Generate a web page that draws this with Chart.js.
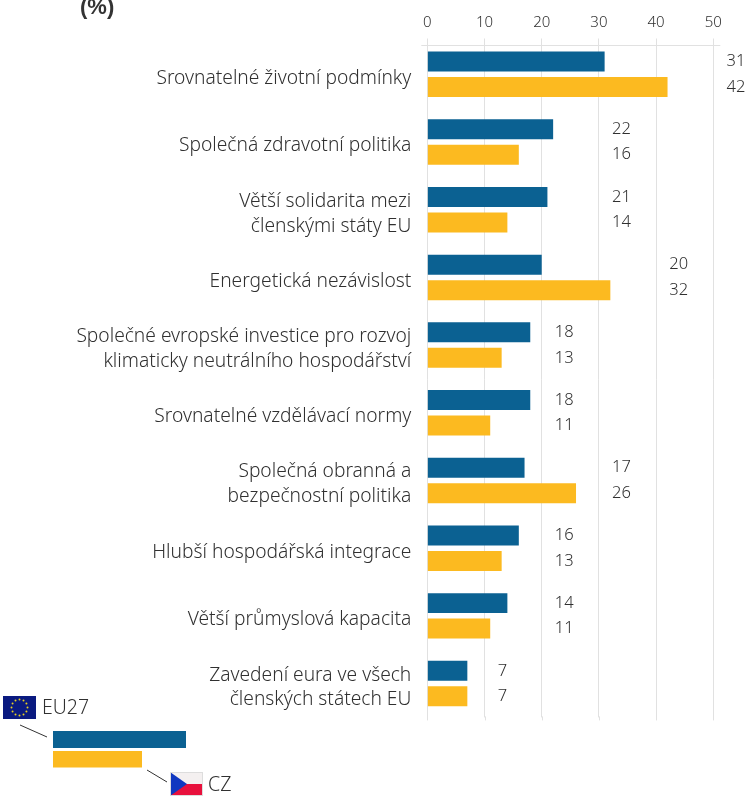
<!DOCTYPE html>
<html><head><meta charset="utf-8">
<style>html,body{margin:0;padding:0;background:#fff}canvas{display:block}</style>
<script src="https://cdn.jsdelivr.net/npm/chart.js@4"></script></head>
<body><div style="width:749px;height:799px;position:relative"><canvas id="c"></canvas></div>
<script>
const categories = [
  "Srovnatelné životní podmínky",
  "Společná zdravotní politika",
  ["Větší solidarita mezi","členskými státy EU"],
  "Energetická nezávislost",
  ["Společné evropské investice pro rozvoj","klimaticky neutrálního hospodářství"],
  "Srovnatelné vzdělávací normy",
  ["Společná obranná a","bezpečnostní politika"],
  "Hlubší hospodářská integrace",
  "Větší průmyslová kapacita",
  ["Zavedení eura ve všech","členských státech EU"]
];
const eu27 = [31,22,21,20,18,18,17,16,14,7];
const cz = [42,16,14,32,13,11,26,13,11,7];
const xTicks = [0,10,20,30,40,50];
const BLUE='#0b6192', YEL='#fcba20', TXT='#303030';
const FONT='"Noto Sans"';
const overlay = {
  id:'overlay',
  afterDraw(ch){
    const {ctx,chartArea:a,scales:{x}}=ch;
    ctx.save();
    // top rule and short extensions of the grid under the plot
    ctx.strokeStyle='#e1e1e1';ctx.lineWidth=1;
    ctx.beginPath();ctx.moveTo(a.left-6,a.top+5);ctx.lineTo(a.right+7,a.top+5);
    xTicks.forEach(v=>{const p=Math.round(x.getPixelForValue(v))+0.5;ctx.moveTo(p,a.bottom-1);ctx.lineTo(p,a.bottom+3);});
    ctx.stroke();
    // value labels
    const m0=ch.getDatasetMeta(0),m1=ch.getDatasetMeta(1);
    ctx.fillStyle=TXT;ctx.font='300 16.5px '+FONT;ctx.textAlign='left';ctx.textBaseline='middle';
    categories.forEach((_,i)=>{
      const col=x.getPixelForValue(2.3+10*Math.ceil(Math.max(eu27[i],cz[i])/10));
      ctx.fillText(eu27[i],col,m0.data[i].y);
      ctx.fillText(cz[i],col,m1.data[i].y);
    });
    // title
    ctx.font='bold 22px "Liberation Sans"';ctx.fillStyle='#333';
    ctx.fillText('(%)',80,8);
    // legend
    ctx.fillStyle=BLUE;ctx.fillRect(53,731,133,17);
    ctx.fillStyle=YEL;ctx.fillRect(53,751,89,16.5);
    ctx.strokeStyle='#333';ctx.lineWidth=1;
    ctx.beginPath();ctx.moveTo(20,725);ctx.lineTo(47,737);ctx.moveTo(147,770);ctx.lineTo(167,782);ctx.stroke();
    // EU flag
    ctx.fillStyle='#0a1a80';ctx.fillRect(3,696,33,23);
    ctx.fillStyle='#e8d020';
    for(let k=0;k<12;k++){const t=k*Math.PI/6;ctx.beginPath();ctx.arc(19.5+8*Math.cos(t),707.5+8*Math.sin(t),1,0,7);ctx.fill();}
    // CZ flag
    ctx.fillStyle='#f4f0f0';ctx.fillRect(170,772,33,12);
    ctx.fillStyle='#e8103c';ctx.fillRect(170,784,33,12);
    ctx.fillStyle='#1038c0';ctx.beginPath();ctx.moveTo(170,772);ctx.lineTo(187,784);ctx.lineTo(170,796);ctx.closePath();ctx.fill();
    ctx.strokeStyle='#ddd';ctx.strokeRect(170.5,772.5,32,23);
    ctx.font='300 19.5px '+FONT;ctx.fillStyle=TXT;ctx.textAlign='left';
    ctx.fillText('EU27',42,708.5);ctx.fillText('CZ',208,785.5);
    ctx.restore();
  }
};
new Chart(document.getElementById('c'),{
  type:'bar',
  data:{labels:categories,datasets:[
    {label:'EU27',data:eu27,backgroundColor:BLUE},
    {label:'CZ',data:cz,backgroundColor:YEL}
  ]},
  plugins:[overlay],
  options:{
    indexAxis:'y',responsive:true,maintainAspectRatio:false,animation:false,
    layout:{padding:{left:0,top:0,right:35.7,bottom:81.6}},
    plugins:{legend:{display:false},title:{display:false},tooltip:{enabled:false}},
    datasets:{bar:{categoryPercentage:0.753,barPercentage:0.784}},
    scales:{
      x:{position:'top',min:0,max:50,
        afterBuildTicks(s){s.ticks=xTicks.map(v=>({value:v}));},
        afterFit(s){s.height=40.5;},
        grid:{color:'#e1e1e1',lineWidth:1,tickLength:2},border:{display:false},
        ticks:{color:TXT,font:{family:FONT,size:15,weight:'300'},padding:7,maxRotation:0}},
      y:{afterFit(s){s.width=427.3;},
        grid:{display:false},border:{display:false},
        ticks:{color:TXT,font:{family:FONT,size:19.2,weight:'300',lineHeight:1.3},padding:8,labelOffset:4,autoSkip:false}}
    }
  }
});
</script></body></html>
